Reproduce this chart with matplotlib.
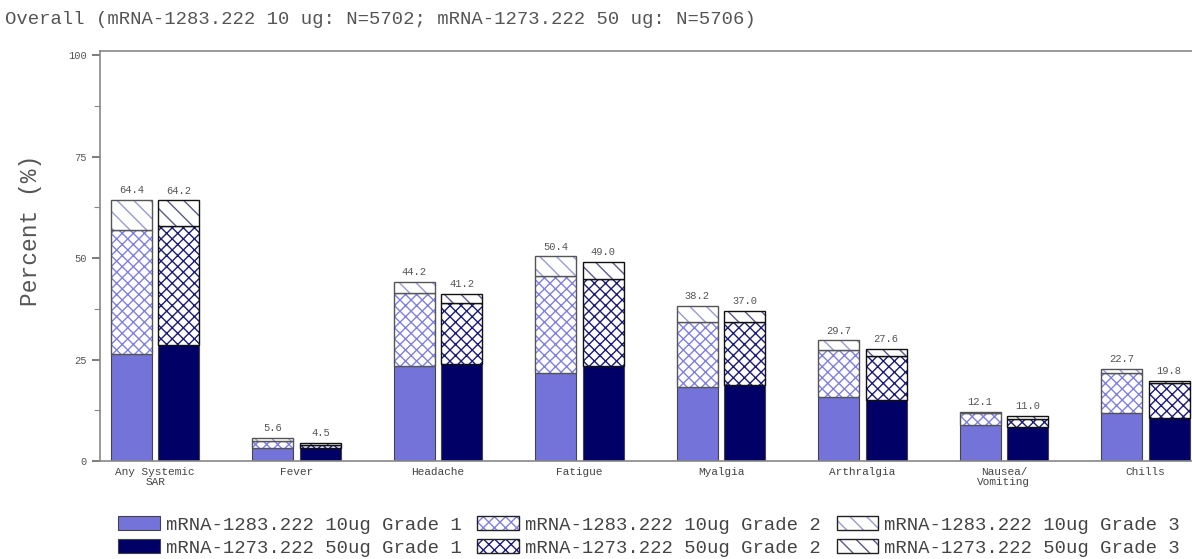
import numpy as np
import matplotlib.pyplot as plt
from matplotlib.patches import Patch
from matplotlib.legend_handler import HandlerTuple

plt.rcParams['font.family'] = ['Liberation Mono', 'DejaVu Sans Mono']
plt.rcParams['hatch.linewidth'] = 1.0

categories = ['Any Systemic\nSAR', 'Fever', 'Headache', 'Fatigue', 'Myalgia',
              'Arthralgia', 'Nausea/\nVomiting', 'Chills']

# percent per grade (stacked increments)
g1_10 = [26.4, 3.1, 23.3, 21.6, 18.2, 15.7, 8.9, 11.8]
g2_10 = [30.5, 1.8, 18.1, 23.9, 16.0, 11.7, 2.9, 9.9]
g3_10 = [7.5, 0.7, 2.8, 4.9, 4.0, 2.3, 0.3, 1.0]
tot_10 = ['64.4', '5.6', '44.2', '50.4', '38.2', '29.7', '12.1', '22.7']

g1_50 = [28.6, 3.2, 23.9, 23.3, 18.8, 15.1, 8.5, 10.5]
g2_50 = [29.4, 0.8, 14.9, 21.6, 15.4, 10.8, 1.8, 8.7]
g3_50 = [6.2, 0.5, 2.4, 4.1, 2.8, 1.7, 0.7, 0.6]
tot_50 = ['64.2', '4.5', '41.2', '49.0', '37.0', '27.6', '11.0', '19.8']

title = 'Overall (mRNA-1283.222 10 ug: N=5702; mRNA-1273.222 50 ug: N=5706)'

fig = plt.figure(figsize=(11.92, 5.59), dpi=100)
ax = fig.add_axes([0.0839, 0.1753, 0.9161, 0.7335])

x = np.arange(len(categories))
w = 0.29
off = 0.168

# name, offset, grades, totals, solid colour, crosshatch colour, diag hatch colour, outline
doses = [
    ('mRNA-1283.222 10ug', -off, [g1_10, g2_10, g3_10], tot_10, '#7373d9', '#8080e2', '#9a9ad8', '#555555'),
    ('mRNA-1273.222 50ug', off, [g1_50, g2_50, g3_50], tot_50, '#000066', '#1c1c78', '#5a5a90', '#111111'),
]

handles = {}
for name, dx, grades, tots, solid, hcol, dcol, ocol in doses:
    bottom = np.zeros(len(x))
    for gi, vals in enumerate(grades):
        vals = np.array(vals)
        if gi == 0:
            ax.bar(x + dx, vals, w, bottom=bottom, color=solid, edgecolor='#444444', linewidth=0.8)
            h = Patch(facecolor=solid, edgecolor='#444444', linewidth=0.8)
        else:
            hatch = 'xxx' if gi == 1 else '\\\\'
            hc = hcol if gi == 1 else dcol
            ax.bar(x + dx, vals, w, bottom=bottom, color='white', edgecolor=hc, hatch=hatch, linewidth=0)
            ax.bar(x + dx, vals, w, bottom=bottom, fill=False, edgecolor=ocol, linewidth=1.0)
            h = (Patch(facecolor='white', edgecolor=hc, hatch=hatch, linewidth=0),
                 Patch(fill=False, edgecolor='#222222', linewidth=1.0))
        handles[(name, gi)] = h
        bottom += vals
    for xi, b, t in zip(x + dx, bottom, tots):
        ax.text(xi, b + 1.2, t, ha='center', va='bottom', fontsize=7.5, color='#555555')

ax.set_xlim(-0.39, 7.33)
ax.set_ylim(0, 101)
ax.set_xticks(x)
ax.set_xticklabels(categories, fontsize=8, color='#444444', linespacing=1.0)
ax.tick_params(axis='x', length=0, pad=4)
ax.set_yticks([0, 25, 50, 75, 100])
ax.set_yticks([12.5, 37.5, 62.5, 87.5], minor=True)
ax.tick_params(axis='y', labelsize=7.5, labelcolor='#555555', color='#666666', length=6, width=1.2)
ax.tick_params(axis='y', which='minor', length=4, width=0.8, color='#888888')
for s in ['left', 'bottom', 'top']:
    ax.spines[s].set_color('#888888')
    ax.spines[s].set_linewidth(1.2)
ax.spines['right'].set_visible(False)

ax.set_ylabel('Percent (%)', fontsize=16.5, color='#555555')
ax.yaxis.set_label_coords(-0.053, 0.563)
fig.text(0.004, 0.965, title, fontsize=13.6, color='#555555', ha='left', va='center')

order = []
labels = []
for gi in range(3):
    for name, *_ in doses:
        order.append(handles[(name, gi)])
        labels.append(f'{name} Grade {gi + 1}')

leg = fig.legend(order, labels, ncol=3, loc='lower left', bbox_to_anchor=(109 / 1192, -0.013),
                 frameon=False, fontsize=13.6, handlelength=2.2, handleheight=0.75,
                 handletextpad=0.3, columnspacing=0.85, labelspacing=0.3, borderpad=0,
                 handler_map={tuple: HandlerTuple(ndivide=1, pad=0)})
for t in leg.get_texts():
    t.set_color('#444444')

fig.savefig('out.png', dpi=100)
